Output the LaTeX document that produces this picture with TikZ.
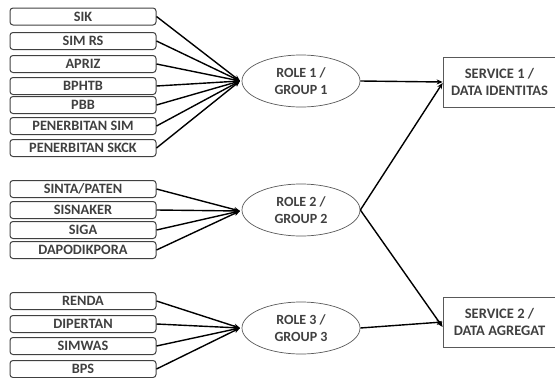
\documentclass[tikz,border=0pt]{standalone}
\usepackage{fontspec}
\setmainfont{Carlito}
\usetikzlibrary{arrows.meta,shapes.geometric}
\begin{document}
\begin{tikzpicture}[x=1pt,y=-1pt,
  src/.style={draw=black!75,line width=1pt,rounded corners=3pt,minimum width=146pt,minimum height=17pt,inner sep=0pt,font=\fontsize{14.3}{15}\selectfont\bfseries,text=black!75},
  role/.style={draw=black!65,line width=0.7pt,ellipse,minimum width=118pt,minimum height=52pt,inner sep=0pt,align=center,font=\fontsize{14}{17.5}\selectfont\bfseries,text=black!75},
  svc/.style={draw=black!65,line width=0.8pt,minimum width=113pt,minimum height=50pt,inner sep=0pt,align=center,font=\fontsize{14.5}{16.5}\selectfont\bfseries,text=black!75},
  conn/.style={line width=1.4pt,black},
  arr/.style={conn,-{Stealth[length=6pt,width=5pt]}}]
\useasboundingbox (0,0) rectangle (555,378);
% group 1
\node[src] (s1) at (83,16.5) {SIK};
\node[src] (s2) at (83,41) {SIM RS};
\node[src] (s3) at (83,64) {APRIZ};
\node[src] (s4) at (83,86) {BPHTB};
\node[src] (s5) at (83,105) {PBB};
\node[src] (s6) at (83,126) {PENERBITAN SIM};
\node[src] (s7) at (83,148) {PENERBITAN SKCK};
% group 2
\node[src] (t1) at (83,189) {SINTA/PATEN};
\node[src] (t2) at (83,210) {SISNAKER};
\node[src] (t3) at (83,230) {SIGA};
\node[src] (t4) at (83,250) {DAPODIKPORA};
% group 3
\node[src] (u1) at (83,301) {RENDA};
\node[src] (u2) at (83,324) {DIPERTAN};
\node[src] (u3) at (83,346) {SIMWAS};
\node[src] (u4) at (83,369) {BPS};
% roles
\node[role] (r1) at (301,81) {ROLE 1 /\\GROUP 1};
\node[role] (r2) at (301,210) {ROLE 2 /\\GROUP 2};
\node[role] (r3) at (301,328) {ROLE 3 /\\GROUP 3};
\coordinate (c1) at (240,81);
\coordinate (c2) at (240,211);
\coordinate (c3) at (240,328);
% services
\node[svc] (v1) at (499.5,82) {SERVICE 1 /\\DATA IDENTITAS};
\node[svc] (v2) at (499.5,322) {SERVICE 2 /\\DATA AGREGAT};
% connectors
\foreach \n in {s1,s2,s3,s4,s5,s6,s7} \draw[arr] (\n.east) -- (c1);
\foreach \n in {t1,t2,t3,t4} \draw[arr] (\n.east) -- (c2);
\foreach \n in {u1,u2,u3,u4} \draw[arr] (\n.east) -- (c3);
\draw[arr] (r1.east) -- (v1.west);
\draw[arr] (r2.east) -- ([yshift=-1pt]v1.west);
\draw[arr] (r2.east) -- ([yshift=-5pt]v2.west);
\draw[arr] (r3.east) -- (v2.west);
\end{tikzpicture}
\end{document}
